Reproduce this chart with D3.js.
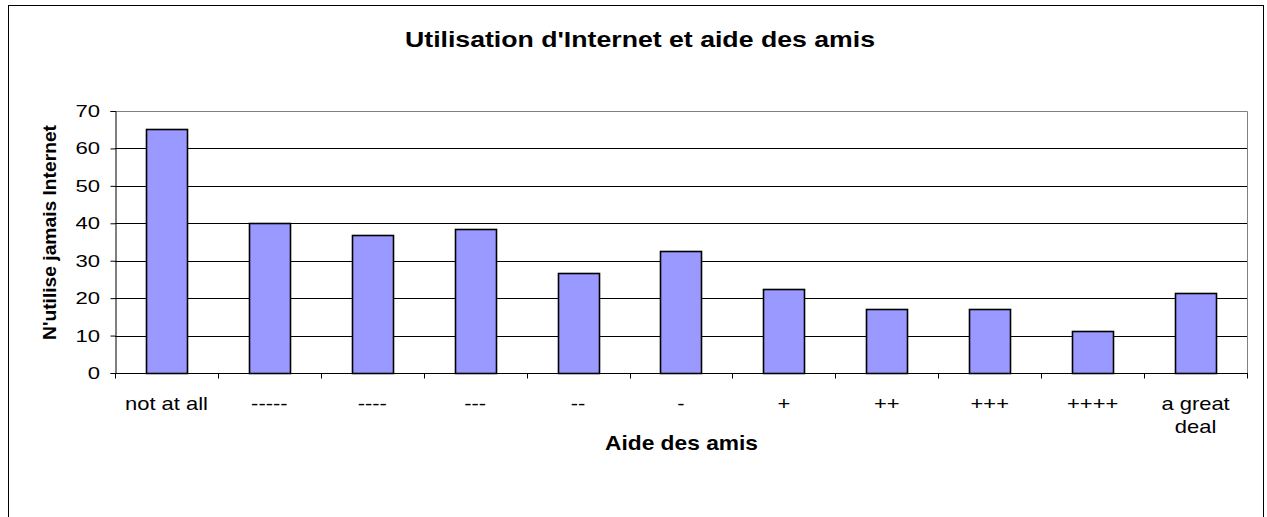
<!DOCTYPE html>
<html><head><meta charset="utf-8">
<script src="https://cdn.jsdelivr.net/npm/d3@7"></script>
<style>body{margin:0;background:#fff;}svg{display:block;font-family:"Liberation Sans",Arial,sans-serif;}</style>
</head><body><svg id="c" width="1267" height="517"></svg>
<script>
const categories = ["not at all","-----","----","---","--","-","+","++","+++","++++","a great deal"];
const values = [65.2,40.0,36.9,38.5,26.7,32.6,22.5,17.1,17.1,11.2,21.5];
const yTicks = [0,10,20,30,40,50,60,70];
const title = "Utilisation d'Internet et aide des amis";
const xTitle = "Aide des amis";
const yTitle = "N'utilise jamais Internet";

const svg = d3.select("#c");
svg.append("rect").attr("x",8.5).attr("y",5.5).attr("width",1255).attr("height",530)
  .attr("fill","#fff").attr("stroke","#000").attr("stroke-width",1);

const L=115, R=1247, T=111, B=373;
const x = d3.scaleBand().domain(categories).range([L,R]).paddingInner(0.6).paddingOuter(0.3);
const xb = d3.scaleBand().domain(categories).range([L,R]);
const y = d3.scaleLinear().domain([0,70]).range([B,T]);

// stretched text helper
function sText(parent, px, py, str, size, sx, anchor, weight){
  const g = parent.append("g").attr("transform",`translate(${px},${py}) scale(${sx},1)`);
  return g.append("text").attr("text-anchor",anchor).attr("font-size",size)
    .attr("font-weight",weight||"normal").attr("fill","#000").text(str);
}

// plot border top/right gray
svg.append("path").attr("d",`M${L},${T+0.5}H${R+0.5}V${B}`).attr("fill","none").attr("stroke","#808080");
// gridlines
svg.append("g").selectAll("line").data(yTicks.filter(d=>d>0&&d<70)).join("line")
  .attr("x1",L).attr("x2",R).attr("y1",d=>Math.round(y(d))+0.5).attr("y2",d=>Math.round(y(d))+0.5)
  .attr("stroke","#000");

// bars
svg.append("g").selectAll("rect").data(values).join("rect")
  .attr("x",(d,i)=>Math.round(x(categories[i]))+0.5)
  .attr("y",d=>Math.round(y(d))+0.5)
  .attr("width",Math.round(x.bandwidth()))
  .attr("height",d=>Math.round(B-y(d)))
  .attr("fill","#9999ff").attr("stroke","#000").attr("stroke-width",1.6);

// y axis
const ya = d3.axisLeft(y).tickValues(yTicks).tickSize(5).tickFormat("");
const gy = svg.append("g").attr("transform",`translate(${L+0.5},0)`).call(ya);
gy.select(".domain").attr("stroke","#000");
gy.selectAll(".tick line").attr("stroke","#000");
yTicks.forEach(t=>sText(svg, 100, y(t)+6, String(t), 17, 1.3, "end"));

// x axis
const gx = svg.append("g").attr("transform",`translate(0,${B+0.5})`);
gx.append("line").attr("x1",L).attr("x2",R+1).attr("stroke","#000");
gx.selectAll("line.t").data(categories.map(c=>xb(c)).concat([R])).join("line").attr("class","t")
  .attr("x1",d=>Math.round(d)+0.5).attr("x2",d=>Math.round(d)+0.5).attr("y1",0).attr("y2",5).attr("stroke","#000");
categories.forEach(c=>{
  const cx = xb(c)+xb.bandwidth()/2;
  const lines = c==="a great deal" ? ["a great","deal"] : [c];
  lines.forEach((l,k)=>sText(svg, cx, 410+k*23, l, 18, 1.22, "middle"));
});

svg.append("text").attr("x",640).attr("y",47).attr("text-anchor","middle")
  .attr("font-size",22).attr("font-weight","bold")
  .attr("textLength",470).attr("lengthAdjust","spacingAndGlyphs").text(title);
svg.append("text").attr("x",681.5).attr("y",450).attr("text-anchor","middle")
  .attr("font-size",21).attr("font-weight","bold")
  .attr("textLength",153).attr("lengthAdjust","spacingAndGlyphs").text(xTitle);
svg.append("text").attr("transform",`translate(56,232.5) rotate(-90)`).attr("text-anchor","middle")
  .attr("font-size",19).attr("font-weight","bold")
  .attr("textLength",215).attr("lengthAdjust","spacingAndGlyphs").text(yTitle);
</script></body></html>
